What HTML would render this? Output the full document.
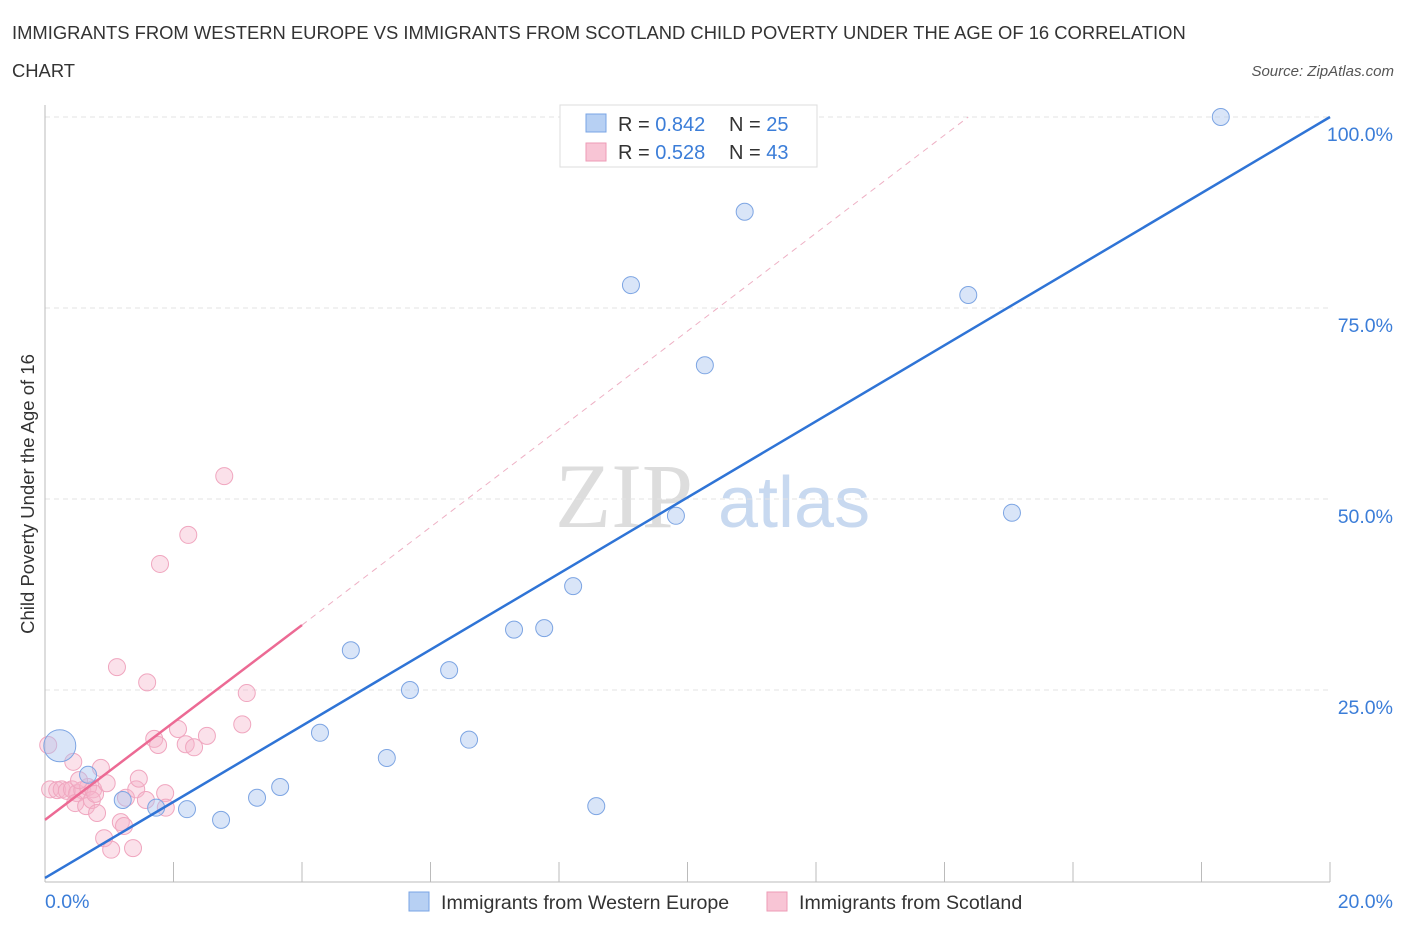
<!DOCTYPE html>
<html><head><meta charset="utf-8"><style>
body{margin:0;background:#fff;font-family:"Liberation Sans",sans-serif;}
svg{display:block}
</style></head><body>
<svg width="1406" height="930">
<text x="12" y="39" font-size="18.4" fill="#333">IMMIGRANTS FROM WESTERN EUROPE VS IMMIGRANTS FROM SCOTLAND CHILD POVERTY UNDER THE AGE OF 16 CORRELATION</text>
<text x="12" y="77" font-size="18.4" fill="#333">CHART</text>
<text x="1394" y="76" font-size="15" fill="#555" font-style="italic" text-anchor="end">Source: ZipAtlas.com</text>
<text x="0" y="0" transform="translate(34,494) rotate(-90)" font-size="18.5" fill="#333" text-anchor="middle">Child Poverty Under the Age of 16</text>
<g><text x="555" y="527" font-size="92" font-family="Liberation Serif,serif" fill="#ddd">ZIP</text><text x="718" y="527" font-size="72" fill="#c8d9f0">atlas</text></g>
<g id="grid"></g><g id="axes"></g><g id="pts"></g><g id="lines"></g>
<g>
<rect x="560" y="105" width="257" height="62" fill="#fff" stroke="#ddd"/>
<rect x="586" y="114" width="20" height="18" fill="#b7d0f3" stroke="#7aa4e4"/>
<rect x="586" y="143" width="20" height="18" fill="#f8c5d5" stroke="#ee9bb6"/>
<text x="618" y="131" font-size="20" fill="#333">R = <tspan fill="#3b7dd8">0.842</tspan></text>
<text x="729" y="131" font-size="20" fill="#333">N = <tspan fill="#3b7dd8">25</tspan></text>
<text x="618" y="159" font-size="20" fill="#333">R = <tspan fill="#3b7dd8">0.528</tspan></text>
<text x="729" y="159" font-size="20" fill="#333">N = <tspan fill="#3b7dd8">43</tspan></text>
</g>
<g>
<rect x="409" y="892" width="20" height="19" fill="#b7d0f3" stroke="#7aa4e4"/>
<text x="441" y="909" font-size="19.6" fill="#333">Immigrants from Western Europe</text>
<rect x="767" y="892" width="20" height="19" fill="#f8c5d5" stroke="#ee9bb6"/>
<text x="799" y="909" font-size="19.6" fill="#333">Immigrants from Scotland</text>
</g>
</svg>
<script>
const blueX=[18.30,10.89,9.12,14.37,10.27,9.82,15.05,8.22,7.30,7.77,4.76,6.29,5.68,6.60,4.28,5.32,3.66,3.30,8.58,2.21,2.74,1.73,1.21,0.67,0.23];
const blueY=[100,87.6,78.0,76.7,67.5,47.8,48.2,38.6,32.9,33.1,30.2,27.6,25.0,18.5,19.4,16.1,12.3,10.9,9.8,9.4,8.0,9.6,10.6,13.9,17.7];
const pinkX=[0.05,0.08,0.19,0.26,0.34,0.42,0.50,0.58,0.67,0.75,0.44,0.53,0.47,0.64,0.73,0.78,0.81,0.87,0.96,0.92,1.03,1.18,1.23,1.26,1.37,1.42,1.46,1.57,1.12,1.59,1.70,1.76,1.87,1.88,1.79,2.07,2.19,2.23,2.32,2.52,2.79,3.07,3.14];
const pinkY=[17.8,12.0,11.9,12.0,11.8,12.0,11.5,11.9,12.3,12.0,15.6,13.2,10.2,9.8,10.6,11.4,8.9,14.8,12.8,5.6,4.1,7.7,7.2,10.9,4.3,12.0,13.4,10.6,28.0,26.0,18.6,17.8,11.5,9.6,41.5,19.9,17.9,45.3,17.5,19.0,53.0,20.5,24.6];
const yTicks=[25,50,75,100];
const xTickLabels=["0.0%","20.0%"];
const NS="http://www.w3.org/2000/svg";
const sx=v=>45+v*64.25, sy=v=>881-v*7.64;
function mk(p,t,a){const e=document.createElementNS(NS,t);for(const k in a)e.setAttribute(k,a[k]);document.getElementById(p).appendChild(e);return e;}
yTicks.forEach(t=>{
 const l=mk('grid','line',{x1:45,x2:1330,y1:sy(t),y2:sy(t),stroke:'#e3e3e3','stroke-dasharray':'5,4'});
 
 
 const tx=mk('grid','text',{x:1393,y:sy(t)+24,'font-size':19.5,fill:'#3b7dd8','text-anchor':'end'});tx.textContent=t.toFixed(1)+'%';
 
 
});
const ax=mk('axes','line',{x1:45,x2:45,y1:105,y2:882,stroke:'#bbb'});


const bx=mk('axes','line',{x1:45,x2:1330,y1:882,y2:882,stroke:'#bbb'});


for(let i=0;i<=10;i++){const t=mk('axes','line',{x1:sx(i*2),x2:sx(i*2),y1:862,y2:882,stroke:'#bbb'});
 
 }
[[0,45,'start'],[1,1393,'end']].forEach(([i,x,a])=>{const t=mk('axes','text',{x:x,y:908,'font-size':19.5,fill:'#3b7dd8','text-anchor':a});t.textContent=xTickLabels[i];
 
 });
pinkX.forEach((x,i)=>{const c=mk('pts','circle',{cx:sx(x),cy:sy(pinkY[i]),r:8.5,fill:'rgba(246,180,202,0.4)',stroke:'#f0a6bf','stroke-width':1});
 
 });
blueX.forEach((x,i)=>{const c=mk('pts','circle',{cx:sx(x),cy:sy(blueY[i]),r:i==24?16:8.5,fill:'rgba(170,198,240,0.45)',stroke:'#7da5e3','stroke-width':1});
 
 });
const bl=mk('lines','line',{x1:sx(0),y1:sy(0.4),x2:sx(20),y2:sy(100),stroke:'#2f74d6','stroke-width':2.5});


const pd=mk('lines','line',{x1:sx(4),y1:sy(33.5),x2:sx(14.37),y2:sy(100),stroke:'#eeb0c4','stroke-width':1,'stroke-dasharray':'6,5'});


const pl=mk('lines','line',{x1:sx(0),y1:sy(8),x2:sx(4),y2:sy(33.5),stroke:'#ec6a94','stroke-width':2.5});


</script>
</body></html>
